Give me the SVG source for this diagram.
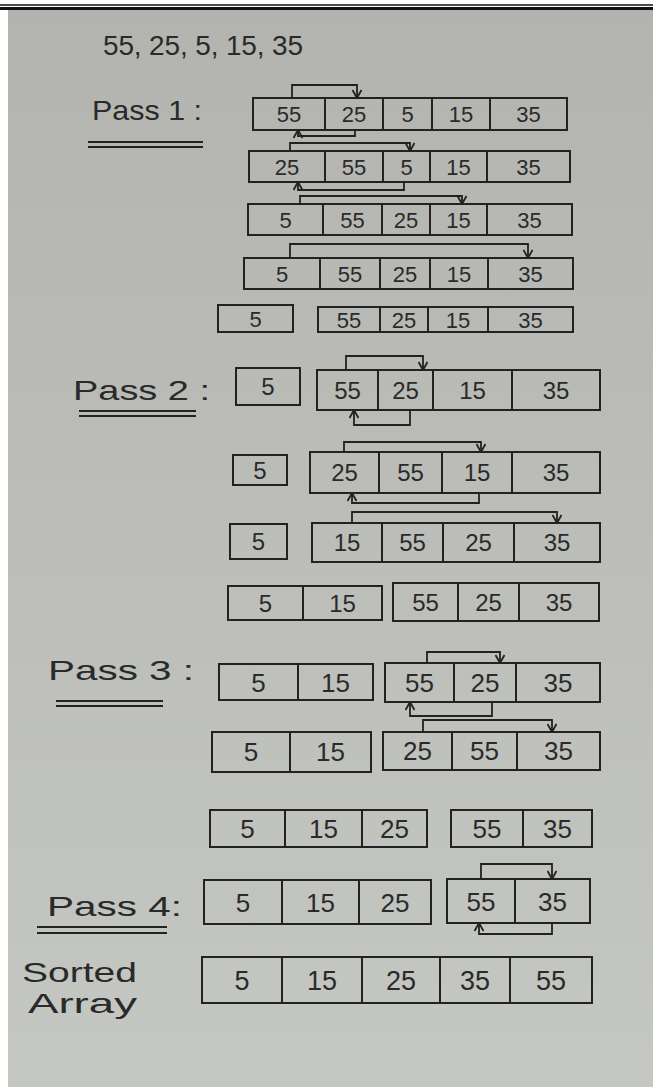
<svg xmlns="http://www.w3.org/2000/svg" width="653" height="1087" viewBox="0 0 653 1087">
<defs>
<linearGradient id="paper" x1="0" y1="0" x2="0" y2="1">
<stop offset="0" stop-color="#b3b4af"/>
<stop offset="1" stop-color="#c5c7c3"/>
</linearGradient>
<marker id="ah" viewBox="0 0 10 10" refX="9" refY="5" markerWidth="10" markerHeight="10" markerUnits="userSpaceOnUse" orient="auto">
<path d="M1,0.5 L9,5 L1,9.5" fill="none" stroke="#222" stroke-width="1.8"/>
</marker>
<style>
.box{fill:none;stroke:#222;stroke-width:2}
.div{stroke:#222;stroke-width:2}
.n{font-family:"Liberation Sans",Arial,sans-serif;fill:#2a2a2a;text-anchor:middle}
.p1{font-size:22px}
.p2{font-size:24px}
.p3{font-size:26px}
.lbl{font-family:"Liberation Sans",Arial,sans-serif;fill:#2a2a2a;font-size:28px}
.ul{stroke:#222;stroke-width:1.8}
.cn{fill:none;stroke:#222;stroke-width:1.8;marker-end:url(#ah)}
</style>
</defs>
<rect x="0" y="0" width="653" height="1087" fill="#ffffff"/>
<rect x="8" y="10" width="645" height="1077" fill="url(#paper)"/>
<line x1="0" y1="5" x2="653" y2="5" stroke="#111" stroke-width="1.5"/>
<line x1="0" y1="8.5" x2="653" y2="8.5" stroke="#111" stroke-width="3"/>

<g id="title"><text class="lbl" x="103" y="55" font-size="27" textLength="200" lengthAdjust="spacing">55, 25, 5, 15, 35</text></g>

<g id="pass1-label">
<text class="lbl" x="92" y="120" textLength="110" lengthAdjust="spacingAndGlyphs">Pass 1 :</text>
<line class="ul" x1="88" y1="142" x2="203" y2="142"/><line class="ul" x1="88" y1="147" x2="203" y2="147"/>
</g>
<g id="p1r1">
<rect class="box" x="253" y="98" width="314" height="32"/>
<line class="div" x1="325" y1="98" x2="325" y2="130"/><line class="div" x1="383" y1="98" x2="383" y2="130"/><line class="div" x1="432" y1="98" x2="432" y2="130"/><line class="div" x1="490" y1="98" x2="490" y2="130"/>
<text class="n p1" y="122"><tspan x="289">55</tspan><tspan x="354">25</tspan><tspan x="407.5">5</tspan><tspan x="461">15</tspan><tspan x="528.5">35</tspan></text>
</g>
<g id="p1r2">
<rect class="box" x="249" y="151" width="321" height="31"/>
<line class="div" x1="325" y1="151" x2="325" y2="182"/><line class="div" x1="383" y1="151" x2="383" y2="182"/><line class="div" x1="430" y1="151" x2="430" y2="182"/><line class="div" x1="487" y1="151" x2="487" y2="182"/>
<text class="n p1" y="174.5"><tspan x="287">25</tspan><tspan x="354">55</tspan><tspan x="406.5">5</tspan><tspan x="458.5">15</tspan><tspan x="528.5">35</tspan></text>
</g>
<g id="p1r3">
<rect class="box" x="248" y="204" width="324" height="31"/>
<line class="div" x1="323" y1="204" x2="323" y2="235"/><line class="div" x1="382" y1="204" x2="382" y2="235"/><line class="div" x1="430" y1="204" x2="430" y2="235"/><line class="div" x1="487" y1="204" x2="487" y2="235"/>
<text class="n p1" y="227.5"><tspan x="285.5">5</tspan><tspan x="352.5">55</tspan><tspan x="406">25</tspan><tspan x="458.5">15</tspan><tspan x="529.5">35</tspan></text>
</g>
<g id="p1r4">
<rect class="box" x="244" y="258" width="329" height="31"/>
<line class="div" x1="320" y1="258" x2="320" y2="289"/><line class="div" x1="380" y1="258" x2="380" y2="289"/><line class="div" x1="430" y1="258" x2="430" y2="289"/><line class="div" x1="488" y1="258" x2="488" y2="289"/>
<text class="n p1" y="281.5"><tspan x="282">5</tspan><tspan x="350">55</tspan><tspan x="405">25</tspan><tspan x="459">15</tspan><tspan x="530.5">35</tspan></text>
</g>
<g id="p1r5a">
<rect class="box" x="218" y="305" width="75" height="27"/>
<text class="n p1" x="255.5" y="326.5">5</text>
</g>
<g id="p1r5b">
<rect class="box" x="318" y="307" width="255" height="25"/>
<line class="div" x1="380" y1="307" x2="380" y2="332"/><line class="div" x1="428" y1="307" x2="428" y2="332"/><line class="div" x1="488" y1="307" x2="488" y2="332"/>
<text class="n p1" y="327.5"><tspan x="349">55</tspan><tspan x="404">25</tspan><tspan x="458">15</tspan><tspan x="530.5">35</tspan></text>
</g>

<g id="pass2-label">
<text class="lbl" x="73" y="400" textLength="137" lengthAdjust="spacingAndGlyphs">Pass 2 :</text>
<line class="ul" x1="79" y1="411" x2="196" y2="411"/><line class="ul" x1="79" y1="416" x2="196" y2="416"/>
</g>
<g id="p2r1a"><rect class="box" x="236" y="368" width="64" height="37"/><text class="n p2" x="268" y="395">5</text></g>
<g id="p2r1b">
<rect class="box" x="317" y="370" width="283" height="40"/>
<line class="div" x1="378" y1="370" x2="378" y2="410"/><line class="div" x1="433" y1="370" x2="433" y2="410"/><line class="div" x1="512" y1="370" x2="512" y2="410"/>
<text class="n p2" y="398.6"><tspan x="347.5">55</tspan><tspan x="405.5">25</tspan><tspan x="472.5">15</tspan><tspan x="556">35</tspan></text>
</g>
<g id="p2r2a"><rect class="box" x="233" y="455" width="54" height="30"/><text class="n p2" x="260" y="478.6">5</text></g>
<g id="p2r2b">
<rect class="box" x="310" y="452" width="290" height="41"/>
<line class="div" x1="379" y1="452" x2="379" y2="493"/><line class="div" x1="442" y1="452" x2="442" y2="493"/><line class="div" x1="512" y1="452" x2="512" y2="493"/>
<text class="n p2" y="481"><tspan x="344.5">25</tspan><tspan x="410.5">55</tspan><tspan x="477">15</tspan><tspan x="556">35</tspan></text>
</g>
<g id="p2r3a"><rect class="box" x="230" y="524" width="57" height="35"/><text class="n p2" x="258.5" y="550">5</text></g>
<g id="p2r3b">
<rect class="box" x="312" y="523" width="288" height="39"/>
<line class="div" x1="382" y1="523" x2="382" y2="562"/><line class="div" x1="443" y1="523" x2="443" y2="562"/><line class="div" x1="514" y1="523" x2="514" y2="562"/>
<text class="n p2" y="551"><tspan x="347">15</tspan><tspan x="412.5">55</tspan><tspan x="478.5">25</tspan><tspan x="557">35</tspan></text>
</g>
<g id="p2r4a">
<rect class="box" x="228" y="586" width="154" height="34"/>
<line class="div" x1="303" y1="586" x2="303" y2="620"/>
<text class="n p2" y="611.5"><tspan x="265.5">5</tspan><tspan x="342.5">15</tspan></text>
</g>
<g id="p2r4b">
<rect class="box" x="393" y="583" width="206" height="38"/>
<line class="div" x1="458" y1="583" x2="458" y2="621"/><line class="div" x1="519" y1="583" x2="519" y2="621"/>
<text class="n p2" y="610.6"><tspan x="425.5">55</tspan><tspan x="488.5">25</tspan><tspan x="559">35</tspan></text>
</g>

<g id="pass3-label">
<text class="lbl" x="48" y="680" textLength="146" lengthAdjust="spacingAndGlyphs">Pass 3 :</text>
<line class="ul" x1="56" y1="701" x2="163" y2="701"/><line class="ul" x1="56" y1="706" x2="163" y2="706"/>
</g>
<g id="p3r1a">
<rect class="box" x="219" y="664" width="154" height="36"/>
<line class="div" x1="298" y1="664" x2="298" y2="700"/>
<text class="n p3" y="691.5"><tspan x="258.5">5</tspan><tspan x="335.5">15</tspan></text>
</g>
<g id="p3r1b">
<rect class="box" x="385" y="663" width="215" height="39"/>
<line class="div" x1="454" y1="663" x2="454" y2="702"/><line class="div" x1="516" y1="663" x2="516" y2="702"/>
<text class="n p3" y="692"><tspan x="419.5">55</tspan><tspan x="485">25</tspan><tspan x="558">35</tspan></text>
</g>
<g id="p3r2a">
<rect class="box" x="212" y="732" width="159" height="40"/>
<line class="div" x1="290" y1="732" x2="290" y2="772"/>
<text class="n p3" y="761.4"><tspan x="251">5</tspan><tspan x="330.5">15</tspan></text>
</g>
<g id="p3r2b">
<rect class="box" x="383" y="732" width="217" height="38"/>
<line class="div" x1="452" y1="732" x2="452" y2="770"/><line class="div" x1="517" y1="732" x2="517" y2="770"/>
<text class="n p3" y="760.4"><tspan x="417.5">25</tspan><tspan x="484.5">55</tspan><tspan x="558.5">35</tspan></text>
</g>
<g id="p3r3a">
<rect class="box" x="210" y="810" width="217" height="37"/>
<line class="div" x1="285" y1="810" x2="285" y2="847"/><line class="div" x1="362" y1="810" x2="362" y2="847"/>
<text class="n p3" y="838"><tspan x="247.5">5</tspan><tspan x="323.5">15</tspan><tspan x="394.5">25</tspan></text>
</g>
<g id="p3r3b">
<rect class="box" x="451" y="810" width="141" height="37"/>
<line class="div" x1="523" y1="810" x2="523" y2="847"/>
<text class="n p3" y="838"><tspan x="487">55</tspan><tspan x="557.5">35</tspan></text>
</g>

<g id="pass4-label">
<text class="lbl" x="47" y="916" textLength="135" lengthAdjust="spacingAndGlyphs">Pass 4:</text>
<line class="ul" x1="37" y1="927" x2="167" y2="927"/><line class="ul" x1="37" y1="933" x2="167" y2="933"/>
</g>
<g id="p4a">
<rect class="box" x="204" y="880" width="227" height="44"/>
<line class="div" x1="282" y1="880" x2="282" y2="924"/><line class="div" x1="359" y1="880" x2="359" y2="924"/>
<text class="n p3" y="911.5"><tspan x="243">5</tspan><tspan x="320.5">15</tspan><tspan x="395">25</tspan></text>
</g>
<g id="p4b">
<rect class="box" x="447" y="879" width="143" height="44"/>
<line class="div" x1="515" y1="879" x2="515" y2="923"/>
<text class="n p3" y="910.5"><tspan x="481">55</tspan><tspan x="552.5">35</tspan></text>
</g>

<g id="sorted-label">
<text class="lbl" x="22" y="982" font-size="31" textLength="115" lengthAdjust="spacingAndGlyphs">Sorted</text>
<text class="lbl" x="28" y="1013" font-size="29" textLength="109" lengthAdjust="spacingAndGlyphs">Array</text>
</g>
<g id="sorted">
<rect class="box" x="202" y="957" width="390" height="46"/>
<line class="div" x1="282" y1="957" x2="282" y2="1003"/><line class="div" x1="362" y1="957" x2="362" y2="1003"/><line class="div" x1="440" y1="957" x2="440" y2="1003"/><line class="div" x1="510" y1="957" x2="510" y2="1003"/>
<text class="n" font-size="27" y="989.5"><tspan x="242">5</tspan><tspan x="322">15</tspan><tspan x="401">25</tspan><tspan x="475">35</tspan><tspan x="551">55</tspan></text>
</g>

<g id="connectors">
<path class="cn" d="M292,98 V85 H357 V98"/>
<path class="cn" d="M355,130 V136 H298 V130"/>
<path class="cn" d="M290,151 V143 H410 V151"/>
<path class="cn" d="M404,182 V190 H298 V182"/>
<path class="cn" d="M300,204 V196 H462 V204"/>
<path class="cn" d="M290,258 V244 H528 V258"/>
<path class="cn" d="M346,370 V356 H423 V370"/>
<path class="cn" d="M410,410 V425 H354 V410"/>
<path class="cn" d="M344,452 V442 H481 V452"/>
<path class="cn" d="M479,493 V503 H352 V493"/>
<path class="cn" d="M352,523 V512 H557 V523"/>
<path class="cn" d="M427,663 V652 H500 V663"/>
<path class="cn" d="M492,702 V716 H410 V702"/>
<path class="cn" d="M423,732 V720 H552 V732"/>
<path class="cn" d="M481,879 V864 H552 V879"/>
<path class="cn" d="M552,923 V934 H479 V923"/>
</g>
</svg>
